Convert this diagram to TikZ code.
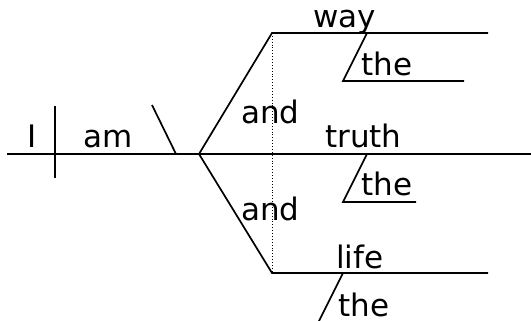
\documentclass[tikz,border=0pt]{standalone}
\usepackage{fontspec}
\setmainfont{DejaVu Sans}
\begin{document}
\begin{tikzpicture}[x=1pt,y=-1pt,
  word/.style={anchor=base west,inner sep=0pt,font=\fontsize{31}{36}\selectfont},
  ln/.style={line width=1.7pt,line cap=butt},
  dotln/.style={line width=0.9pt,dotted}]
\useasboundingbox (0,0) rectangle (531,321);
\clip (0,0) rectangle (531,321);
% coordinates
\coordinate (mL) at (7,154);
\coordinate (mR) at (531,154);
\coordinate (vT) at (55,106);
\coordinate (vB) at (55,178);
\coordinate (cT) at (152,105);
\coordinate (cB) at (176,154);
\coordinate (fork) at (199,154);
\coordinate (tL) at (272,33);
\coordinate (tR) at (488,33);
\coordinate (bL) at (272,273);
\coordinate (bR) at (488,273);
\coordinate (s1a) at (367,33);
\coordinate (s1b) at (343,81);
\coordinate (h1) at (464,81);
\coordinate (s2a) at (367,154);
\coordinate (s2b) at (343,202);
\coordinate (h2) at (416,202);
\coordinate (s3a) at (343,273);
\coordinate (s3b) at (317,325);
\coordinate (h3) at (416,325);
% words
\node[word] (I) at (27,148) {I};
\node[word] (am) at (83,147) {am};
\node[word] (way) at (313,28) {way};
\node[word] (the1) at (361,76) {the};
\node[word] (and1) at (241,124) {and};
\node[word] (truth) at (325,148) {truth};
\node[word] (the2) at (361,196) {the};
\node[word] (and2) at (241,220) {and};
\node[word] (life) at (336,268) {life};
\node[word] (the3) at (338,316) {the};
% lines
\draw[ln] (mL) -- (mR);
\draw[ln] (vT) -- (vB);
\draw[ln] (cT) -- (cB);
\draw[ln,line join=miter] (tR) -- (tL) -- (fork) -- (bL) -- (bR);
\draw[dotln] (tL) -- (bL);
\draw[ln,line join=miter] (s1a) -- (s1b) -- (h1);
\draw[ln,line join=miter] (s2a) -- (s2b) -- (h2);
\draw[ln,line join=miter] (s3a) -- (s3b) -- (h3);
\end{tikzpicture}
\end{document}
